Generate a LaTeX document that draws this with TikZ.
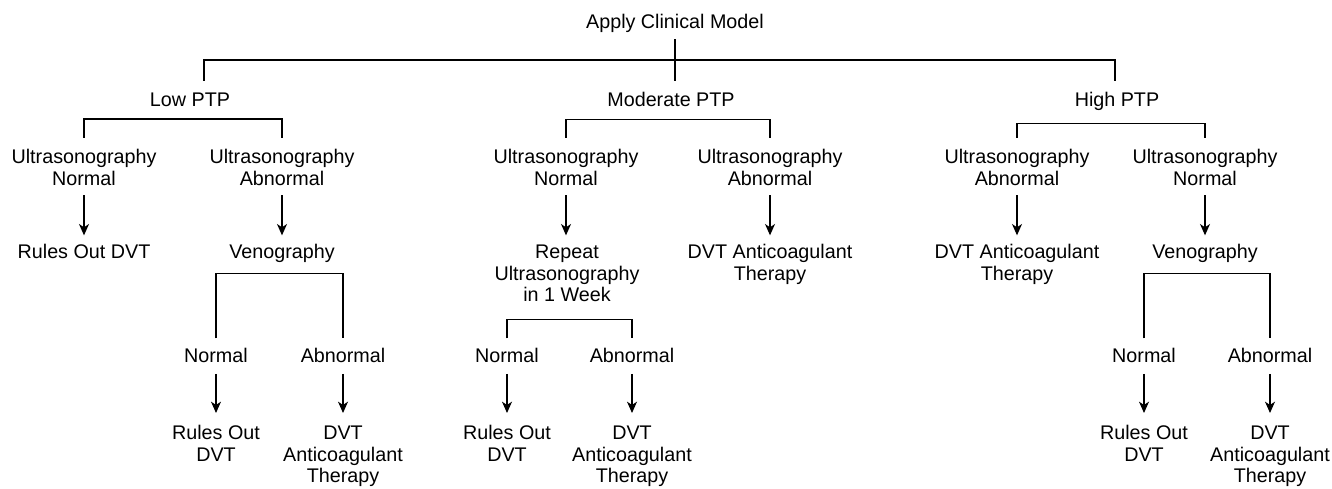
\documentclass[tikz,border=0pt]{standalone}
\usepackage{fontspec}
\setmainfont{Liberation Sans}
\usepackage{tikz}
\usetikzlibrary{arrows.meta}

\begin{document}
\begin{tikzpicture}[x=0.75pt, y=-0.75pt, line width=0.9pt,
		txt/.style={anchor=north, align=center, inner sep=0pt, font=\fontsize{14.8}{16.4}\selectfont},
		link/.style={-{Stealth[length=8.5pt, width=7.5pt, inset=2.5pt]}, shorten <=6.5pt, shorten >=6.5pt}]
			\useasboundingbox (0,0) rectangle (1332,489);
			\node[txt] (root) at (675,14) {Apply Clinical Model};
			\node[txt] (low)  at (190,92) {Low PTP};
			\node[txt] (mod)  at (671,92) {Moderate PTP};
			\node[txt] (high) at (1117,92) {High PTP};
			\node[txt] (lowN)  at (84,149)   {Ultrasonography\\Normal};
			\node[txt] (lowA)  at (282,149)  {Ultrasonography\\Abnormal};
			\node[txt] (modN)  at (566,149)  {Ultrasonography\\Normal};
			\node[txt] (modA)  at (770,149)  {Ultrasonography\\Abnormal};
			\node[txt] (highA) at (1017,149) {Ultrasonography\\Abnormal};
			\node[txt] (highN) at (1205,149) {Ultrasonography\\Normal};
			\node[txt] (lowR)  at (84,244)   {Rules Out DVT};
			\node[txt] (lowV)  at (282,244)  {Venography};
			\node[txt] (modR)  at (567,244)  {Repeat\\Ultrasonography\\in 1 Week};
			\node[txt] (modD)  at (770,244)  {DVT Anticoagulant\\Therapy};
			\node[txt] (highD) at (1017,244) {DVT Anticoagulant\\Therapy};
			\node[txt] (highV) at (1205,244) {Venography};
			\node[txt] (lowVN)  at (216,348)  {Normal};
			\node[txt] (lowVA)  at (343,348)  {Abnormal};
			\node[txt] (modRN)  at (507,348)  {Normal};
			\node[txt] (modRA)  at (632,348)  {Abnormal};
			\node[txt] (highVN) at (1144,348) {Normal};
			\node[txt] (highVA) at (1270,348) {Abnormal};
			\node[txt] (lowVNR)  at (216,425)  {Rules Out\\DVT};
			\node[txt] (lowVAD)  at (343,425)  {DVT\\Anticoagulant\\Therapy};
			\node[txt] (modRNR)  at (507,425)  {Rules Out\\DVT};
			\node[txt] (modRAD)  at (632,425)  {DVT\\Anticoagulant\\Therapy};
			\node[txt] (highVNR) at (1144,425) {Rules Out\\DVT};
			\node[txt] (highVAD) at (1270,425) {DVT\\Anticoagulant\\Therapy};
			\coordinate (hub) at (675,60);
			\draw ([yshift=-4.4pt]root.south) -- ([yshift=8.5pt]root.south |- mod.north);
			\draw ([xshift=10.5pt, yshift=8.5pt]low.north) |- (hub) -| ([xshift=-1.5pt, yshift=8.5pt]high.north);
			\draw ([yshift=8.5pt]lowN.north)  |- ([yshift=-9pt]low.south)  -| ([yshift=8.5pt]lowA.north);
			\draw ([yshift=8.5pt]modN.north)  |- ([yshift=-9pt]mod.south)  -| ([yshift=8.5pt]modA.north);
			\draw ([yshift=8.5pt]highA.north) |- ([yshift=-9pt]high.south) -| ([yshift=8.5pt]highN.north);
			\draw[link] (lowN.south)  -- (lowN.south |- lowR.north);
			\draw[link] (lowA.south)  -- (lowA.south |- lowV.north);
			\draw[link] (modN.south)  -- (modN.south |- modR.north);
			\draw[link] (modA.south)  -- (modA.south |- modD.north);
			\draw[link] (highA.south) -- (highA.south |- highD.north);
			\draw[link] (highN.south) -- (highN.south |- highV.north);
			\draw ([yshift=7.2pt]lowVN.north)  |- ([yshift=-7.6pt]lowV.south)  -| ([yshift=7.2pt]lowVA.north);
			\draw ([yshift=7.2pt]modRN.north)  |- ([yshift=-12.4pt]modR.south) -| ([yshift=7.2pt]modRA.north);
			\draw ([yshift=7.2pt]highVN.north) |- ([yshift=-7.6pt]highV.south) -| ([yshift=7.2pt]highVA.north);
			\draw[link, shorten <=7.7pt, shorten >=9pt] (lowVN.south)  -- (lowVN.south |- lowVNR.north);
			\draw[link, shorten <=7.7pt, shorten >=9pt] (lowVA.south)  -- (lowVA.south |- lowVAD.north);
			\draw[link, shorten <=7.7pt, shorten >=9pt] (modRN.south)  -- (modRN.south |- modRNR.north);
			\draw[link, shorten <=7.7pt, shorten >=9pt] (modRA.south)  -- (modRA.south |- modRAD.north);
			\draw[link, shorten <=7.7pt, shorten >=9pt] (highVN.south) -- (highVN.south |- highVNR.north);
			\draw[link, shorten <=7.7pt, shorten >=9pt] (highVA.south) -- (highVA.south |- highVAD.north);
\end{tikzpicture}
\end{document}
